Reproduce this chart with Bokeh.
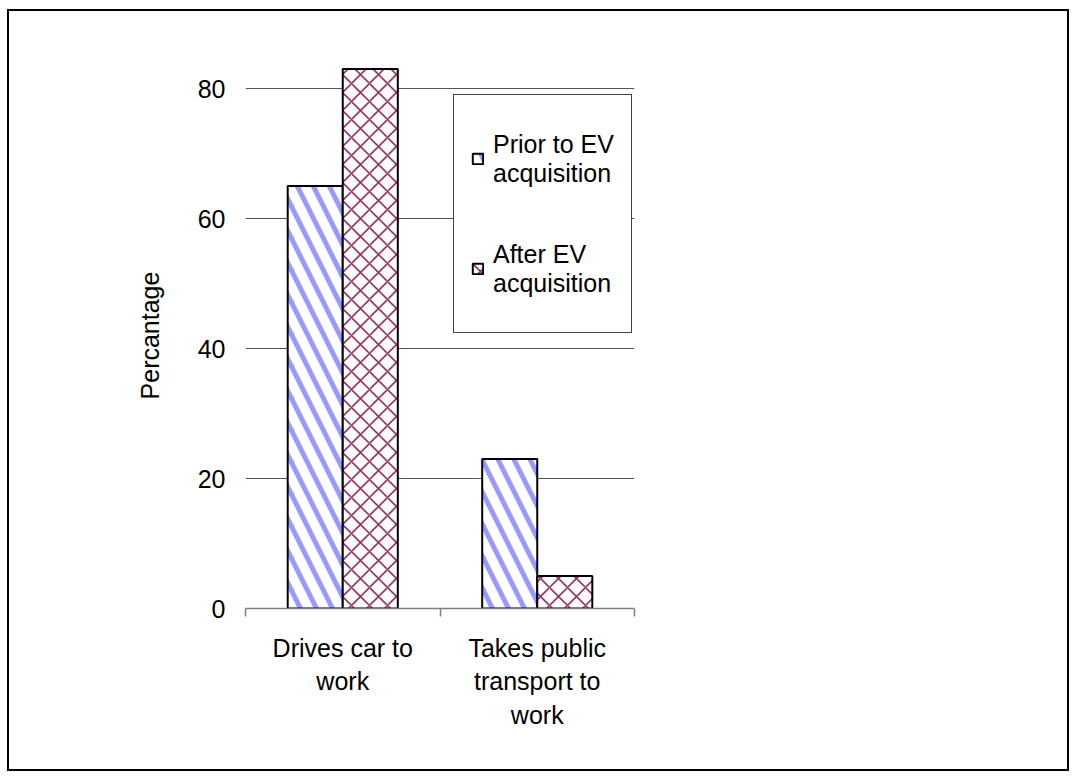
import numpy as np
from bokeh.plotting import figure
from bokeh.models import (ColumnDataSource, FixedTicker, Range1d, Legend, LegendItem)
from bokeh.core.properties import value
from bokeh.transform import dodge
from bokeh.embed import file_html
from bokeh.resources import INLINE

categories = ["Drives car to\nwork", "Takes public\ntransport to\nwork"]
prior = [65, 23]
after = [83, 5]
series_names = ["Prior to EV\nacquisition", "After EV\nacquisition"]
y_ticks = [0, 20, 40, 60, 80]

FONT = "Liberation Sans"
FS = "25px"

pos = list(np.arange(len(categories)) + 0.5)
src = ColumnDataSource(dict(x=pos, prior=prior, after=after))

p = figure(width=1062, height=762, output_backend="svg", toolbar_location=None,
           x_range=Range1d(0, len(categories)), y_range=Range1d(0, 84),
           min_border_left=236, min_border_right=437, min_border_top=51,
           min_border_bottom=165, outline_line_color=None,
           background_fill_color="white", border_fill_color="white")
p.styles = {"border": "2px solid black"}
p.margin = (9, 0, 0, 7)

bw = 0.283
r1 = p.vbar(x=dodge("x", -bw / 2), top="prior", width=bw, source=src,
            fill_color="white", line_color="black", line_width=2,
            hatch_pattern="left_diagonal_line", hatch_color="#9999FF",
            hatch_weight=5, hatch_scale=32)
r2 = p.vbar(x=dodge("x", bw / 2), top="after", width=bw, source=src,
            fill_color="white", line_color="black", line_width=2,
            hatch_pattern="diagonal_cross", hatch_color="#993366",
            hatch_weight=1.6, hatch_scale=18)

# grids
p.xgrid.visible = False
p.ygrid.ticker = FixedTicker(ticks=y_ticks)
p.ygrid.grid_line_color = "#555555"
p.ygrid.grid_line_width = 1

# x axis
xa = p.xaxis[0]
xa.ticker = FixedTicker(ticks=pos, minor_ticks=list(range(len(categories) + 1)))
xa.major_label_overrides = {float(x): c for x, c in zip(pos, categories)}
xa.major_tick_out = 0
xa.major_tick_in = 0
xa.minor_tick_out = 8
xa.minor_tick_in = 0
xa.minor_tick_line_color = "#808080"
xa.minor_tick_line_width = 1.5
xa.axis_line_color = "#808080"
xa.axis_line_width = 1.5
xa.major_label_standoff = 17
xa.major_label_text_font = FONT
xa.major_label_text_font_size = FS
xa.major_label_text_color = "black"
xa.major_label_text_line_height = 1.2

# y axis
ya = p.yaxis[0]
ya.ticker = FixedTicker(ticks=y_ticks)
ya.axis_line_color = None
ya.major_tick_line_color = None
ya.minor_tick_line_color = None
ya.major_label_standoff = 14
ya.major_label_text_font = FONT
ya.major_label_text_font_size = FS
ya.major_label_text_color = "black"
ya.axis_label = "Percantage"
ya.axis_label_text_font = FONT
ya.axis_label_text_font_size = FS
ya.axis_label_text_font_style = "normal"
ya.axis_label_text_color = "black"
ya.axis_label_standoff = 31

legend = Legend(items=[LegendItem(label=value(series_names[0]), renderers=[r1]),
                       LegendItem(label=value(series_names[1]), renderers=[r2])],
                location=(208, 275), orientation="vertical",
                glyph_width=13, glyph_height=13, label_standoff=9,
                label_height=93, spacing=17, padding=17, margin=0,
                border_line_color="#444444", border_line_width=1.2,
                border_line_alpha=1.0,
                background_fill_color="white", background_fill_alpha=1,
                label_text_font=FONT, label_text_font_size=FS,
                label_text_color="black", label_text_line_height=1.2)
p.add_layout(legend, "center")

open("out.html", "w").write(file_html(p, INLINE))
